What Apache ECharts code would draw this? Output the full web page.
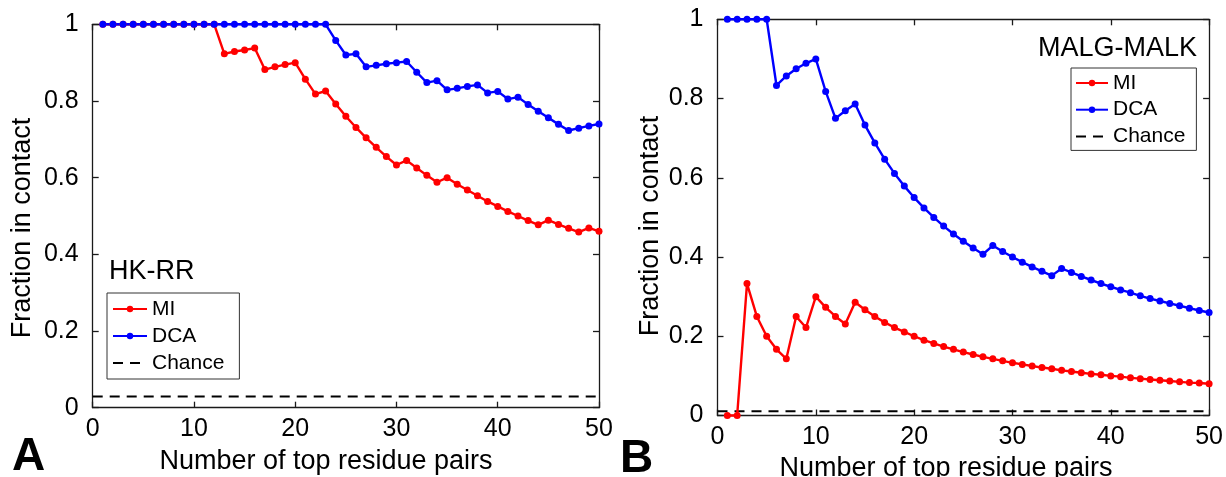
<!DOCTYPE html>
<html>
<head>
<meta charset="utf-8">
<script src="https://cdn.jsdelivr.net/npm/echarts@6/dist/echarts.min.js"></script>
<style>
html,body{margin:0;padding:0;background:#fff;}
#chart{width:1226px;height:477px;}
</style>
</head>
<body>
<div id="chart"></div>
<script>
// ---- data ----
const pairCounts = [1,2,3,4,5,6,7,8,9,10,11,12,13,14,15,16,17,18,19,20,21,22,23,24,25,26,27,28,29,30,31,32,33,34,35,36,37,38,39,40,41,42,43,44,45,46,47,48,49,50];
const xTicks = [0,10,20,30,40,50];
const yTicks = [0,0.2,0.4,0.6,0.8,1];

// Panel A: HK-RR
const hkMI = [1,1,1,1,1,1,1,1,1,1,1,1,0.923,0.929,0.933,0.938,0.882,0.889,0.895,0.9,0.857,0.818,0.826,0.792,0.76,0.731,0.704,0.679,0.655,0.633,0.645,0.625,0.606,0.588,0.6,0.583,0.568,0.553,0.538,0.525,0.512,0.5,0.488,0.477,0.489,0.478,0.468,0.458,0.469,0.46];
const hkDCA = [1,1,1,1,1,1,1,1,1,1,1,1,1,1,1,1,1,1,1,1,1,1,1,0.958,0.92,0.923,0.889,0.893,0.897,0.9,0.903,0.875,0.848,0.853,0.829,0.833,0.838,0.842,0.821,0.825,0.805,0.81,0.791,0.773,0.756,0.739,0.723,0.729,0.735,0.74];
const hkChance = 0.029;

// Panel B: MALG-MALK
const mmMI = [0,0,0.333,0.25,0.2,0.167,0.143,0.25,0.222,0.3,0.273,0.25,0.231,0.286,0.267,0.25,0.235,0.222,0.211,0.2,0.19,0.182,0.174,0.167,0.16,0.154,0.148,0.143,0.138,0.133,0.129,0.125,0.121,0.118,0.114,0.111,0.108,0.105,0.103,0.1,0.098,0.095,0.093,0.091,0.089,0.087,0.085,0.083,0.082,0.08];
const mmDCA = [1,1,1,1,1,0.833,0.857,0.875,0.889,0.9,0.818,0.75,0.769,0.786,0.733,0.688,0.647,0.611,0.579,0.55,0.524,0.5,0.478,0.458,0.44,0.423,0.407,0.429,0.414,0.4,0.387,0.375,0.364,0.353,0.371,0.361,0.351,0.342,0.333,0.325,0.317,0.31,0.302,0.295,0.289,0.283,0.277,0.271,0.265,0.26];
const mmChance = 0.0106;

const seriesNames = ['MI','DCA','Chance'];
const panelTitles = ['HK-RR','MALG-MALK'];
const panelLetters = ['A','B'];
const xTitle = 'Number of top residue pairs';
const yTitle = 'Fraction in contact';

// ---- chart ----
const FONT = 'Liberation Sans, Arial, Helvetica, sans-serif';
const chart = echarts.init(document.getElementById('chart'), null, {renderer:'canvas'});
const pairs = (ys) => pairCounts.map((x,i)=>[x, ys[i]]);
const axisLineStyle = {color:'#1a1a1a', width:1.3};

function xAxes(gi){
  return [
    {gridIndex:gi, type:'value', min:xTicks[0], max:xTicks[xTicks.length-1], interval:10, position:'bottom',
     axisLine:{show:true, onZero:false, lineStyle:axisLineStyle},
     axisTick:{show:true, inside:true, length:6, lineStyle:axisLineStyle},
     axisLabel:{show:true, fontSize:25, color:'#000', fontFamily:FONT, margin:9},
     splitLine:{show:false}},
    {gridIndex:gi, type:'value', min:xTicks[0], max:xTicks[xTicks.length-1], interval:10, position:'top',
     axisLine:{show:true, onZero:false, lineStyle:axisLineStyle},
     axisTick:{show:true, inside:true, length:6, lineStyle:axisLineStyle},
     axisLabel:{show:false}, splitLine:{show:false}}
  ];
}
function yAxes(gi){
  return [
    {gridIndex:gi, type:'value', min:yTicks[0], max:yTicks[yTicks.length-1], interval:0.2, position:'left',
     axisLine:{show:true, onZero:false, lineStyle:axisLineStyle},
     axisTick:{show:true, inside:true, length:6, lineStyle:axisLineStyle},
     axisLabel:{show:true, fontSize:25, color:'#000', fontFamily:FONT, margin:14,
       formatter:(v)=> (Math.abs(v)<1e-9?'0':(Math.abs(v-1)<1e-9?'1':String(+v.toFixed(1))))},
     splitLine:{show:false}},
    {gridIndex:gi, type:'value', min:yTicks[0], max:yTicks[yTicks.length-1], interval:0.2, position:'right',
     axisLine:{show:true, onZero:false, lineStyle:axisLineStyle},
     axisTick:{show:true, inside:true, length:6, lineStyle:axisLineStyle},
     axisLabel:{show:false}, splitLine:{show:false}}
  ];
}

function dataSeries(name, color, data, xi, yi){
  return {name, type:'line', xAxisIndex:xi, yAxisIndex:yi, data, clip:false,
    symbol:'circle', symbolSize:7, showSymbol:true,
    lineStyle:{color, width:2.4}, itemStyle:{color, borderWidth:0},
    emphasis:{disabled:true}, animation:false, z:3};
}
function chanceSeries(val, xi, yi){
  return {name:seriesNames[2], type:'line', xAxisIndex:xi, yAxisIndex:yi,
    data:[[xTicks[0],val],[xTicks[xTicks.length-1],val]], clip:false,
    symbol:'none', lineStyle:{color:'#000', width:2, type:[10,7]}, itemStyle:{color:'#000'},
    emphasis:{disabled:true}, animation:false, z:2};
}

const legendData = [
  {name:seriesNames[0]},
  {name:seriesNames[1]},
  {name:seriesNames[2], itemStyle:{opacity:0, color:'rgba(0,0,0,0)'}, lineStyle:{type:[10,7], width:2, color:'#000'}}
];
const legendCommon = {orient:'vertical', itemWidth:34, itemHeight:8, itemGap:5,
  borderColor:'#333', borderWidth:1, backgroundColor:'#fff', selectedMode:false,
  textStyle:{fontSize:21, fontFamily:FONT, color:'#000', lineHeight:22},
  data:legendData};

const option = {
  animation:false,
  backgroundColor:'#fff',
  grid:[
    {left:92.7, top:24.3, width:506.3, height:383.4},
    {left:717.5, top:19.3, width:494.2, height:396.2}
  ],
  xAxis:[...xAxes(0), ...xAxes(1)],
  yAxis:[...yAxes(0), ...yAxes(1)],
  legend:[
    Object.assign({}, legendCommon, {left:107, top:293, padding:[5,15,5,5]}),
    Object.assign({}, legendCommon, {left:1071, top:68, itemWidth:32, padding:[4,11,3,4], itemGap:4.7})
  ],
  series:[
    dataSeries(seriesNames[0], '#ff0000', pairs(hkMI), 0, 0),
    dataSeries(seriesNames[1], '#0000ff', pairs(hkDCA), 0, 0),
    chanceSeries(hkChance, 0, 0),
    dataSeries(seriesNames[0], '#ff0000', pairs(mmMI), 2, 2),
    dataSeries(seriesNames[1], '#0000ff', pairs(mmDCA), 2, 2),
    chanceSeries(mmChance, 2, 2)
  ],
  graphic:[
    {type:'text', x:109, y:272, style:{text:panelTitles[0], fontSize:27, fontFamily:FONT, fill:'#000', align:'left', verticalAlign:'middle'}},
    {type:'text', x:1197, y:48.5, style:{text:panelTitles[1], fontSize:27, fontFamily:FONT, fill:'#000', align:'right', verticalAlign:'middle'}},
    {type:'text', x:12, y:457, style:{text:panelLetters[0], fontSize:46, fontWeight:'bold', fontFamily:FONT, fill:'#000', align:'left', verticalAlign:'middle'}},
    {type:'text', x:620, y:459, style:{text:panelLetters[1], fontSize:46, fontWeight:'bold', fontFamily:FONT, fill:'#000', align:'left', verticalAlign:'middle'}},
    {type:'text', x:326, y:462, style:{text:xTitle, fontSize:27, fontFamily:FONT, fill:'#000', align:'center', verticalAlign:'middle'}},
    {type:'text', x:946, y:469, style:{text:xTitle, fontSize:27, fontFamily:FONT, fill:'#000', align:'center', verticalAlign:'middle'}},
    {type:'text', x:23, y:228, rotation:Math.PI/2, style:{text:yTitle, fontSize:27, fontFamily:FONT, fill:'#000', align:'center', verticalAlign:'middle'}},
    {type:'text', x:651, y:226, rotation:Math.PI/2, style:{text:yTitle, fontSize:27, fontFamily:FONT, fill:'#000', align:'center', verticalAlign:'middle'}}
  ]
};
chart.setOption(option);
</script>
</body>
</html>
